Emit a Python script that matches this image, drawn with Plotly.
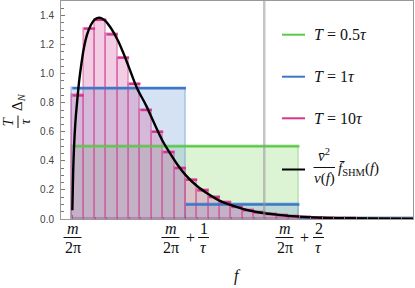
import plotly.graph_objects as go

# ---------------- data (f measured from m/2pi, in units of 1/tau) ----------------
T_labels = ["<i>T</i> = 0.5<i>τ</i>", "<i>T</i> = 1<i>τ</i>", "<i>T</i> = 10<i>τ</i>"]
T_values = [0.5, 1.0, 10.0]          # in units of tau -> bin width 1/T
h_T05 = [0.50, 0.004]
h_T1 = [0.90, 0.10, 0.006]
h_T10 = [0.85, 1.31, 1.37, 1.27, 1.11, 0.93, 0.75, 0.60, 0.46, 0.35,
         0.27, 0.197, 0.151, 0.114, 0.083, 0.060, 0.045, 0.034, 0.025, 0.019,
         0.014, 0.010, 0.0075, 0.0055, 0.004, 0.003, 0.002, 0.0015, 0.001, 0.0008]

curve_f = [0.000, 0.005, 0.010, 0.020, 0.030, 0.040, 0.060, 0.080, 0.100, 0.130,
           0.160, 0.200, 0.240, 0.280, 0.330, 0.400, 0.450, 0.500, 0.570, 0.650,
           0.720, 0.800, 0.850, 0.920, 1.000, 1.100, 1.200, 1.300, 1.400, 1.500,
           1.650, 1.800, 2.000, 2.200, 2.400, 2.600, 2.800, 3.000]
curve_y = [0.06, 0.25, 0.40, 0.58, 0.70, 0.79, 0.95, 1.07, 1.17, 1.27,
           1.33, 1.375, 1.385, 1.37, 1.325, 1.23, 1.14, 1.04, 0.90, 0.78,
           0.66, 0.53, 0.465, 0.38, 0.30, 0.225, 0.17, 0.125, 0.095, 0.07,
           0.045, 0.03, 0.016, 0.009, 0.005, 0.003, 0.002, 0.001]

marker_f = 1.69
x_tick_vals = [0, 1, 2]
y_tick_vals = [0.0, 0.2, 0.4, 0.6, 0.8, 1.0, 1.2, 1.4]

# ---------------- styles ----------------
styles = [
    dict(fill="rgba(138,215,111,0.30)", side="rgba(110,200,90,0.35)", top="#5DC94B"),
    dict(fill="rgba(115,158,218,0.30)", side="rgba(100,150,215,0.40)", top="#3D78C8"),
    dict(fill="rgba(212,88,162,0.30)", side="rgba(210,70,150,0.45)", top="#D6358E"),
]
heights = [h_T05, h_T1, h_T10]

fig = go.Figure()

# filled histogram bars (bin width 1/T)
for T, h, st in zip(T_values, heights, styles):
    w = 1.0 / T
    centers = [w * (i + 0.5) for i in range(len(h))]
    fig.add_trace(go.Bar(x=centers, y=h, width=w,
                         marker=dict(color=st["fill"], line=dict(color=st["side"], width=1.8)),
                         showlegend=False, hoverinfo="skip"))

# bar top edges
for T, h, st in zip(T_values, heights, styles):
    w = 1.0 / T
    xs, ys = [], []
    for i, v in enumerate(h):
        xs += [w * i, w * (i + 1), None]
        ys += [v, v, None]
    fig.add_trace(go.Scatter(x=xs, y=ys, mode="lines",
                             line=dict(color=st["top"], width=2.4),
                             showlegend=False, hoverinfo="skip"))

# continuous curve
fig.add_trace(go.Scatter(x=curve_f, y=curve_y, mode="lines",
                         line=dict(color="black", width=2.4, shape="spline", smoothing=1.0),
                         showlegend=False, hoverinfo="skip"))

# ---------------- layout helpers ----------------
L, R, TOP, BOT = 61, 413, 1, 219
W_IMG, H_IMG = 415, 288


def P(px, py):
    return (px - L) / (R - L), (BOT - py) / (BOT - TOP)


ann = []
shapes = []
SERIF = "Liberation Serif"


def txt(px, py, s, size=16, angle=0, xanchor="center"):
    x, y = P(px, py)
    ann.append(dict(x=x, y=y, xref="paper", yref="paper", text=s, showarrow=False,
                    font=dict(family=SERIF, size=size, color="#111"),
                    xanchor=xanchor, yanchor="middle", textangle=angle))


def hline(px0, px1, py, color="#111", width=1):
    x0, y0 = P(px0, py)
    x1, _ = P(px1, py)
    shapes.append(dict(type="line", xref="paper", yref="paper", x0=x0, x1=x1, y0=y0, y1=y0,
                       line=dict(color=color, width=width)))


def vline(px, py0, py1, color="#111", width=1):
    x0, y0 = P(px, py0)
    _, y1 = P(px, py1)
    shapes.append(dict(type="line", xref="paper", yref="paper", x0=x0, x1=x0, y0=y0, y1=y1,
                       line=dict(color=color, width=width)))


# x tick labels (fractions)
def frac(cx, num, den, half):
    txt(cx, 228, num)
    hline(cx - half, cx + half, 237.5)
    txt(cx, 247.5, den)


frac(72.5, "<i>m</i>", "2π", 9)
frac(170.5, "<i>m</i>", "2π", 9)
txt(190, 237.5, "+")
frac(203.5, "1", "<i>τ</i>", 5.5)
frac(284.5, "<i>m</i>", "2π", 9)
txt(304, 237.5, "+")
frac(318.5, "2", "<i>τ</i>", 5.5)

# x title
txt(237, 275.5, "<i>f</i>", size=16)

# y title (rotated)
txt(8, 121.5, "<i>T</i>", size=15, angle=-90)
vline(18, 115.5, 128)
txt(24.5, 122, "<i>τ</i>", size=15, angle=-90)
txt(18, 102, "Δ<sub><i>N</i></sub>", size=15, angle=-90)

# legend
leg_y = [34.7, 76.7, 118.3]
for y, st, lab in zip(leg_y, styles, T_labels):
    hline(282, 305, y, color=st["top"], width=2)
    txt(312, y, lab, size=16, xanchor="left")
hline(282, 305, 169.5, color="black", width=2)
txt(324, 155, "<i>v\u0304</i><sup>2</sup>", size=15)
hline(313.5, 335, 167.5)
txt(324, 178.5, "<i>v</i>(<i>f</i>)", size=15)
txt(336, 169, "<i>f\u0304</i><sub>SHM</sub>(<i>f</i>)", size=15, xanchor="left")

# grey marker line
shapes.append(dict(type="line", xref="x", yref="paper", x0=marker_f, x1=marker_f, y0=0, y1=1,
                   line=dict(color="rgba(150,150,150,0.55)", width=2.5), layer="above"))

fig.update_layout(
    width=W_IMG, height=H_IMG,
    margin=dict(l=L, r=W_IMG - R, t=TOP, b=H_IMG - BOT),
    paper_bgcolor="white", plot_bgcolor="white",
    barmode="overlay", bargap=0,
    showlegend=False,
    annotations=ann, shapes=shapes,
    xaxis=dict(range=[-0.1, 3.0], showgrid=False, zeroline=False,
               showline=True, linecolor="#999", linewidth=1, mirror=True,
               tickmode="array", tickvals=x_tick_vals, showticklabels=False,
               ticks="inside", ticklen=4, tickcolor="#777",
               minor=dict(dtick=0.1, ticks="inside", ticklen=2.5, tickcolor="#777")),
    yaxis=dict(range=[0, 1.5], showgrid=False, zeroline=False,
               showline=True, linecolor="#999", linewidth=1, mirror=True,
               tickmode="array", tickvals=y_tick_vals, tickformat=".1f",
               ticks="inside", ticklen=4, tickcolor="#777", ticklabelstandoff=4,
               tickfont=dict(family="Liberation Sans", size=10, color="#444"),
               minor=dict(dtick=0.05, ticks="inside", ticklen=2.5, tickcolor="#777")),
)

fig.write_html("out.html", config={"displayModeBar": False},
               post_script="document.body.style.margin='0px';")
